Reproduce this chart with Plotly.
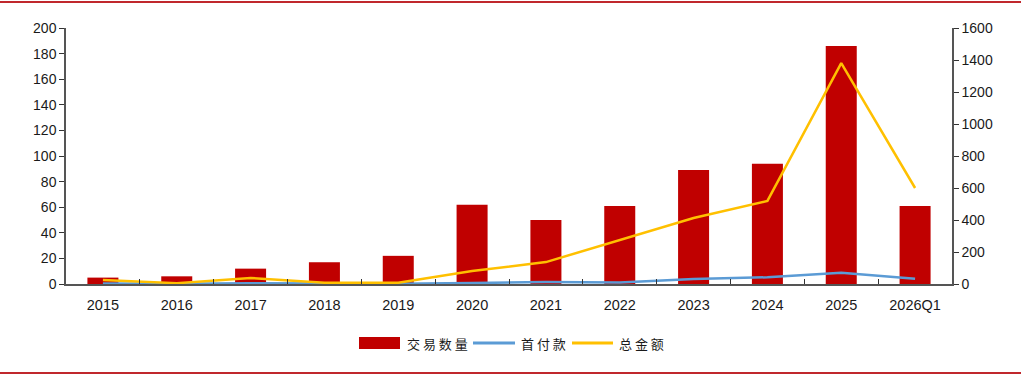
import plotly.graph_objects as go

categories = ["2015", "2016", "2017", "2018", "2019", "2020", "2021", "2022", "2023", "2024", "2025", "2026Q1"]
deal_count = [5, 6, 12, 17, 22, 62, 50, 61, 89, 94, 186, 61]
upfront = [3, 1, 5, 2, 2, 6, 12, 10, 32, 42, 70, 33]
total_value = [25, 5, 38, 8, 8, 81, 137, 275, 412, 519, 1381, 600]

names = ["交易数量", "首付款", "总金额"]
RED = "#C00000"
BLUE = "#5B9BD5"
YELLOW = "#FFC000"

fig = go.Figure()
fig.add_trace(go.Bar(x=categories, y=deal_count, name=names[0], marker_color=RED,
                     marker_line_width=0, width=0.42, yaxis="y"))
fig.add_trace(go.Scatter(x=categories, y=upfront, name=names[1], mode="lines",
                         line=dict(color=BLUE, width=2.5), yaxis="y2"))
fig.add_trace(go.Scatter(x=categories, y=total_value, name=names[2], mode="lines",
                         line=dict(color=YELLOW, width=2.5), yaxis="y2"))

tick_font = dict(family="Liberation Sans, Arial", size=14, color="#1a1a1a")

fig.update_layout(
    width=1021, height=376,
    margin=dict(l=66, r=69, t=28, b=92),
    paper_bgcolor="white", plot_bgcolor="white",
    showlegend=False,
    xaxis=dict(type="category", showline=True, linecolor="#555555", linewidth=1.5,
               ticks="inside", tickson="boundaries", ticklen=5, tickcolor="#333333",
               tickfont=dict(family="Liberation Sans, Arial", size=14.5, color="#1a1a1a"),
               ticklabelstandoff=7,
               showgrid=False, zeroline=False),
    yaxis=dict(range=[0, 200], dtick=20, showline=True, linecolor="#555555", linewidth=1.5,
               ticks="outside", ticklen=5, tickcolor="#333333", tickfont=tick_font,
               showgrid=False, zeroline=False),
    yaxis2=dict(range=[0, 1600], dtick=200, overlaying="y", side="right", showline=True,
                linecolor="#555555", linewidth=1.5, ticks="outside", ticklen=5,
                tickcolor="#333333", tickfont=tick_font, showgrid=False, zeroline=False),
)

W = 886.0
H = 256.0
def px(x):
    return (x - 66) / W
def py(y):
    return (284 - y) / H

shapes = [
    dict(type="line", xref="paper", yref="paper", x0=px(0), x1=px(1021), y0=py(2), y1=py(2),
         line=dict(color="#C0282D", width=2)),
    dict(type="line", xref="paper", yref="paper", x0=px(0), x1=px(1021), y0=py(373), y1=py(373),
         line=dict(color="#C0282D", width=2)),
    dict(type="rect", xref="paper", yref="paper", x0=px(359), x1=px(400), y0=py(349), y1=py(337),
         fillcolor=RED, line=dict(width=0)),
    dict(type="line", xref="paper", yref="paper", x0=px(473), x1=px(515), y0=py(343), y1=py(343),
         line=dict(color=BLUE, width=3)),
    dict(type="line", xref="paper", yref="paper", x0=px(572), x1=px(613), y0=py(343), y1=py(343),
         line=dict(color=YELLOW, width=3)),
]
leg_font = dict(family="Noto Sans CJK SC", size=13, color="#1a1a1a")
annotations = [
    dict(xref="paper", yref="paper", x=px(405), y=py(343), text="交 易 数 量", showarrow=False,
         xanchor="left", yanchor="middle", font=leg_font),
    dict(xref="paper", yref="paper", x=px(519), y=py(343), text="首 付 款", showarrow=False,
         xanchor="left", yanchor="middle", font=leg_font),
    dict(xref="paper", yref="paper", x=px(617), y=py(343), text="总 金 额", showarrow=False,
         xanchor="left", yanchor="middle", font=leg_font),
]
fig.update_layout(shapes=shapes, annotations=annotations)

fig.write_html("out.html", config={"displayModeBar": False},
               post_script="document.body.style.margin='0';document.body.style.padding='0';")
